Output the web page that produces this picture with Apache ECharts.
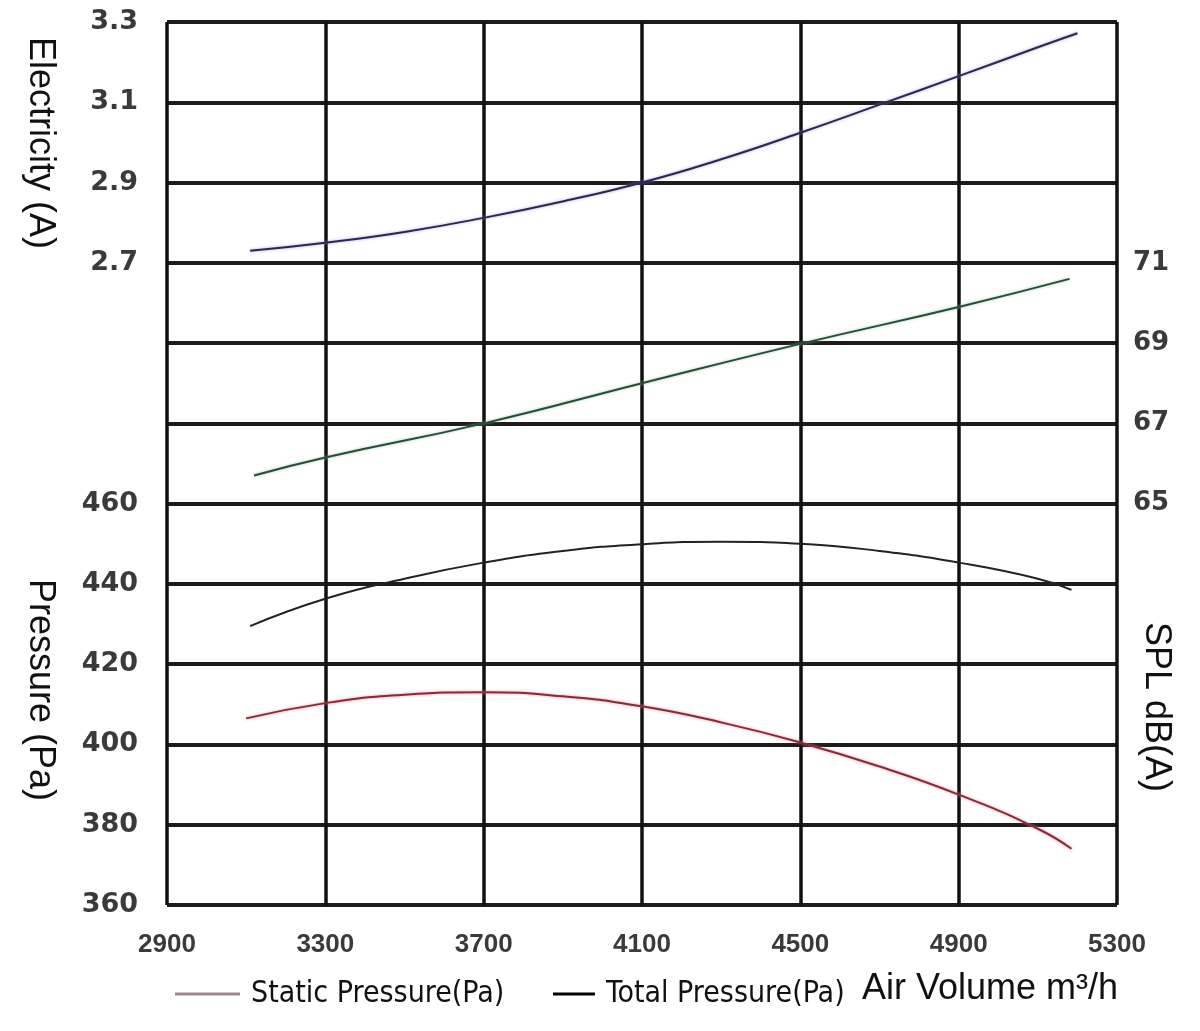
<!DOCTYPE html>
<html>
<head>
<meta charset="utf-8">
<script src="https://cdn.jsdelivr.net/npm/echarts@6/dist/echarts.min.js"></script>
<style>
  html, body { margin: 0; padding: 0; background: #fff; }
  #chart { width: 1200px; height: 1031px; }
</style>
</head>
<body>
<div id="chart"></div>
<script>
// air volume ticks (m3/h)
var volumeTicks = [2900, 3300, 3700, 4100, 4500, 4900, 5300];

// electricity (A) curve
var currentX = [3110, 3300, 3500, 3700, 3900, 4100, 4300, 4500, 4700, 4900, 5100, 5200];
var currentY = [2.73, 2.75, 2.777, 2.812, 2.853, 2.90, 2.958, 3.024, 3.094, 3.165, 3.237, 3.272];

// noise SPL dB(A)
var splX = [3120, 3300, 3700, 4100, 4500, 4900, 5180];
var splY = [65.7, 66.15, 67.0, 68.0, 68.98, 69.9, 70.6];

// total pressure (Pa)
var totalX = [3110, 3300, 3500, 3700, 3900, 4100, 4300, 4500, 4700, 4900, 5100, 5185];
var totalY = [429.5, 436.3, 441.3, 445.3, 448.2, 449.9, 450.5, 450.0, 448.2, 445.3, 441.3, 438.5];

// static pressure (Pa)
var staticX = [3100, 3300, 3500, 3700, 3900, 4100, 4300, 4500, 4700, 4900, 5100, 5185];
var staticY = [406.5, 410.3, 412.4, 413, 412, 409.5, 405.5, 400.5, 394.5, 387.5, 379, 374];

function pairs(xs, ys) {
    return xs.map(function (x, i) { return [x, ys[i]]; });
}

var gridColor = '#1c1c1c';
var labelFont = { fontFamily: 'DejaVu Sans', fontWeight: 'bold', fontSize: 27, color: '#3a3a3a' };
var titleFont = '36px "Liberation Sans"';
var legendText = { fontFamily: 'Liberation Sans Narrow, DejaVu Sans Condensed, sans-serif', fontSize: 30, color: '#111', padding: [0, 0, 0, 6] };

var chart = echarts.init(document.getElementById('chart'));

var option = {
    backgroundColor: '#fff',
    animation: false,
    grid: { left: 167, right: 83, top: 22, bottom: 126, containLabel: false },
    xAxis: {
        type: 'value',
        min: volumeTicks[0],
        max: volumeTicks[volumeTicks.length - 1],
        interval: 400,
        axisLine: { show: false },
        axisTick: { show: false },
        splitLine: { show: true, lineStyle: { color: '#111', width: 3.5 } },
        axisLabel: {
            margin: 27,
            fontFamily: 'Liberation Sans',
            fontWeight: 'bold',
            fontSize: 26,
            color: '#3a3a3a',
            formatter: function (v) { return String(v); }
        }
    },
    yAxis: [
        {   // electricity, top left
            type: 'value',
            position: 'left',
            min: 1.1, max: 3.3, interval: 0.2,
            axisLine: { show: false },
            axisTick: { show: false },
            splitLine: { show: false },
            axisLabel: Object.assign({
                margin: 29,
                formatter: function (v) { return v > 2.65 ? v.toFixed(1) : ''; }
            }, labelFont)
        },
        {   // pressure, bottom left
            type: 'value',
            position: 'left',
            min: 360, max: 580, interval: 20,
            axisLine: { show: false },
            axisTick: { show: false },
            splitLine: { show: true, lineStyle: { color: gridColor, width: 4 } },
            axisLabel: Object.assign({
                margin: 29,
                formatter: function (v) { return v <= 460 ? String(v) : ''; }
            }, labelFont)
        },
        {   // SPL, right
            type: 'value',
            position: 'right',
            min: 55, max: 77, interval: 2,
            axisLine: { show: false },
            axisTick: { show: false },
            splitLine: { show: false },
            axisLabel: Object.assign({
                margin: 16,
                formatter: function (v) { return (v >= 65 && v <= 71) ? String(v) : ''; }
            }, labelFont, { fontSize: 26 })
        }
    ],
    legend: [
        {
            left: 170, top: 974,
            icon: 'rect', itemWidth: 65, itemHeight: 3,
            textStyle: legendText,
            data: [{ name: 'Static Pressure(Pa)', itemStyle: { color: '#a08890' } }]
        },
        {
            left: 548, top: 974,
            icon: 'rect', itemWidth: 42, itemHeight: 3,
            textStyle: legendText,
            data: [{ name: 'Total Pressure(Pa)', itemStyle: { color: '#000' } }]
        }
    ],
    graphic: [
        {
            type: 'text', x: 40, y: 143, rotation: -Math.PI / 2,
            style: { text: 'Electricity (A)', font: titleFont, fill: '#111', align: 'center', verticalAlign: 'middle' }
        },
        {
            type: 'text', x: 40, y: 690, rotation: -Math.PI / 2,
            style: { text: 'Pressure (Pa)', font: titleFont, fill: '#111', align: 'center', verticalAlign: 'middle' }
        },
        {
            type: 'text', x: 1156, y: 707, rotation: -Math.PI / 2,
            style: { text: 'SPL dB(A)', font: titleFont, fill: '#111', align: 'center', verticalAlign: 'middle' }
        },
        {
            type: 'text', x: 862, y: 989,
            style: { text: 'Air Volume m³/h', font: '36px "Liberation Sans"', fill: '#111', align: 'left', verticalAlign: 'middle' }
        }
    ],
    series: [
        {
            name: 'Electricity (A)', type: 'line', yAxisIndex: 0, smooth: true, symbol: 'none',
            lineStyle: { color: '#2a2850', width: 2, shadowColor: 'rgba(150,140,210,0.8)', shadowBlur: 3 },
            data: pairs(currentX, currentY)
        },
        {
            name: 'SPL dB(A)', type: 'line', yAxisIndex: 2, smooth: true, symbol: 'none',
            lineStyle: { color: '#2c4a3a', width: 2, shadowColor: 'rgba(120,200,150,0.8)', shadowBlur: 3 },
            data: pairs(splX, splY)
        },
        {
            name: 'Total Pressure(Pa)', type: 'line', yAxisIndex: 1, smooth: true, symbol: 'none',
            lineStyle: { color: '#222', width: 2 },
            data: pairs(totalX, totalY)
        },
        {
            name: 'Static Pressure(Pa)', type: 'line', yAxisIndex: 1, smooth: true, symbol: 'none',
            lineStyle: { color: '#8a2a38', width: 2, shadowColor: 'rgba(230,120,140,0.8)', shadowBlur: 3 },
            data: pairs(staticX, staticY)
        }
    ]
};

chart.setOption(option);
</script>
</body>
</html>
